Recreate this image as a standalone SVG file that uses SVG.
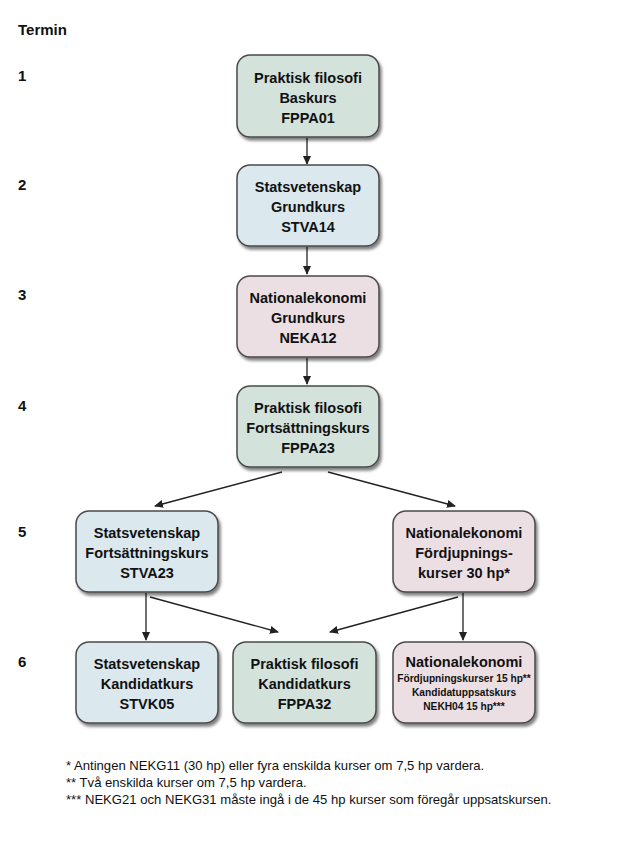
<svg xmlns="http://www.w3.org/2000/svg" width="630" height="846" viewBox="0 0 630 846">
<style>
  .lbl { font-family: "Liberation Sans", Arial, sans-serif; font-weight: bold; fill: #111; }
  .t { font-family: "Liberation Sans", Arial, sans-serif; font-weight: bold; font-size: 14.5px; fill: #111; text-anchor: middle; }
  .s { font-family: "Liberation Sans", Arial, sans-serif; font-weight: bold; font-size: 10.2px; fill: #111; text-anchor: middle; }
  .fn { font-family: "Liberation Sans", Arial, sans-serif; font-size: 13.1px; fill: #111; }
  .box { stroke: #4a4a4a; stroke-width: 1.5; filter: url(#sh); }
  .g { fill: #d3e3dc; }
  .b { fill: #dbe8ee; }
  .p { fill: #ecdfe3; }
  .c { stroke: #222; stroke-width: 1.3; fill: none; marker-end: url(#ah); }
</style>
<defs>
  <filter id="sh" x="-10%" y="-10%" width="130%" height="130%">
    <feGaussianBlur in="SourceAlpha" stdDeviation="1.5"/>
    <feOffset dx="2" dy="3" result="o"/>
    <feComponentTransfer><feFuncA type="linear" slope="0.5"/></feComponentTransfer>
    <feMerge><feMergeNode/><feMergeNode in="SourceGraphic"/></feMerge>
  </filter>
  <marker id="ah" markerWidth="9" markerHeight="8" refX="8" refY="4" orient="auto" markerUnits="userSpaceOnUse">
    <path d="M0,0 L9,4 L0,8 Z" fill="#222"/>
  </marker>
</defs>
<rect width="630" height="846" fill="#fff"/>

<g id="termin">
  <text class="lbl" x="18" y="35" font-size="15">Termin</text>
  <text class="lbl" x="18" y="81" font-size="15">1</text>
  <text class="lbl" x="18" y="190" font-size="15">2</text>
  <text class="lbl" x="18" y="300" font-size="15">3</text>
  <text class="lbl" x="18" y="411" font-size="15">4</text>
  <text class="lbl" x="18" y="537" font-size="15">5</text>
  <text class="lbl" x="18" y="667" font-size="15">6</text>
</g>

<g id="connectors">
  <line class="c" x1="307" y1="138" x2="307" y2="164"/>
  <line class="c" x1="307" y1="247" x2="307" y2="274"/>
  <line class="c" x1="307" y1="358" x2="307" y2="384"/>
  <line class="c" x1="282" y1="472" x2="155" y2="506"/>
  <line class="c" x1="328" y1="472" x2="455" y2="506"/>
  <line class="c" x1="146" y1="593" x2="146" y2="640"/>
  <line class="c" x1="150" y1="597" x2="278" y2="632"/>
  <line class="c" x1="458" y1="597" x2="330" y2="632"/>
  <line class="c" x1="463" y1="593" x2="463" y2="640"/>
</g>

<g id="n1">
  <rect class="box g" x="237" y="55" width="142" height="82" rx="13"/>
  <text class="t" x="308" y="83">Praktisk filosofi</text>
  <text class="t" x="308" y="103">Baskurs</text>
  <text class="t" x="308" y="123">FPPA01</text>
</g>
<g id="n2">
  <rect class="box b" x="237" y="165" width="142" height="81" rx="13"/>
  <text class="t" x="308" y="192">Statsvetenskap</text>
  <text class="t" x="308" y="212">Grundkurs</text>
  <text class="t" x="308" y="232">STVA14</text>
</g>
<g id="n3">
  <rect class="box p" x="237" y="276" width="142" height="81" rx="13"/>
  <text class="t" x="308" y="303">Nationalekonomi</text>
  <text class="t" x="308" y="323">Grundkurs</text>
  <text class="t" x="308" y="343">NEKA12</text>
</g>
<g id="n4">
  <rect class="box g" x="237" y="386" width="142" height="81" rx="13"/>
  <text class="t" x="308" y="413">Praktisk filosofi</text>
  <text class="t" x="308" y="433">Fortsättningskurs</text>
  <text class="t" x="308" y="453">FPPA23</text>
</g>
<g id="n5a">
  <rect class="box b" x="76" y="511" width="142" height="81" rx="13"/>
  <text class="t" x="147" y="538">Statsvetenskap</text>
  <text class="t" x="147" y="558">Fortsättningskurs</text>
  <text class="t" x="147" y="578">STVA23</text>
</g>
<g id="n5b">
  <rect class="box p" x="393" y="511" width="142" height="81" rx="13"/>
  <text class="t" x="464" y="538">Nationalekonomi</text>
  <text class="t" x="464" y="558">Fördjupnings-</text>
  <text class="t" x="464" y="578">kurser 30 hp*</text>
</g>
<g id="n6a">
  <rect class="box b" x="76" y="642" width="142" height="81" rx="13"/>
  <text class="t" x="147" y="669">Statsvetenskap</text>
  <text class="t" x="147" y="689">Kandidatkurs</text>
  <text class="t" x="147" y="709">STVK05</text>
</g>
<g id="n6b">
  <rect class="box g" x="233" y="642" width="143" height="81" rx="13"/>
  <text class="t" x="304.5" y="669">Praktisk filosofi</text>
  <text class="t" x="304.5" y="689">Kandidatkurs</text>
  <text class="t" x="304.5" y="709">FPPA32</text>
</g>
<g id="n6c">
  <rect class="box p" x="393" y="642" width="142" height="81" rx="13"/>
  <text class="t" x="464" y="667">Nationalekonomi</text>
  <text class="s" x="464" y="682">Fördjupningskurser 15 hp**</text>
  <text class="s" x="464" y="696">Kandidatuppsatskurs</text>
  <text class="s" x="464" y="710">NEKH04 15 hp***</text>
</g>

<g id="footnotes">
  <text class="fn" x="66" y="770">* Antingen NEKG11 (30 hp) eller fyra enskilda kurser om 7,5 hp vardera.</text>
  <text class="fn" x="66" y="787">** Två enskilda kurser om 7,5 hp vardera.</text>
  <text class="fn" x="66" y="804">*** NEKG21 och NEKG31 måste ingå i de 45 hp kurser som föregår uppsatskursen.</text>
</g>
</svg>
